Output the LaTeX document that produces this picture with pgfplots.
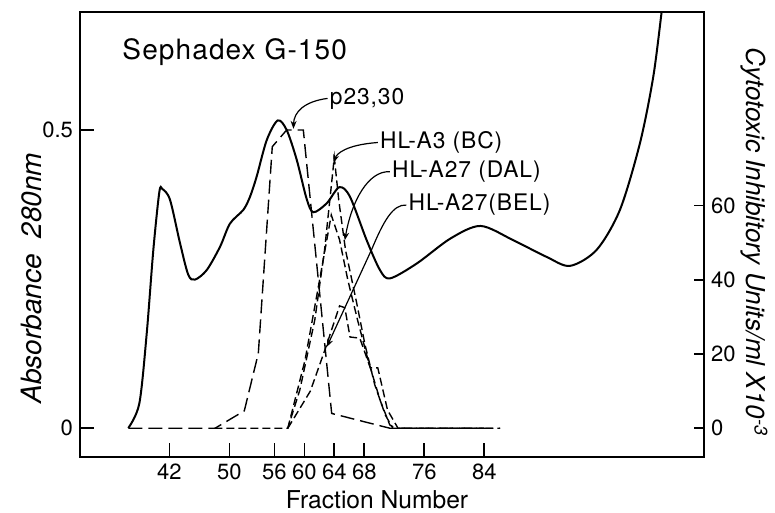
\documentclass[border=0pt]{standalone}
\usepackage{fontspec}
\setmainfont{TeX Gyre Heros}
\newfontfamily\lblfont[LetterSpace=4]{TeX Gyre Heros}
\usepackage{pgfplots}
\pgfplotsset{compat=1.18}
\usetikzlibrary{arrows.meta}

\begin{document}
\begin{tikzpicture}
\useasboundingbox (-40pt,-28pt) rectangle (347.5pt,228.5pt);
% ---------------- left axis : absorbance ----------------
\begin{axis}[
  at={(0pt,0pt)}, anchor=south west,
  scale only axis, width=312pt, height=222.5pt,
  xmin=30.09, xmax=113.3, ymin=-0.0487, ymax=0.698,
  xtick={42,50,56,60,64,68,76,84},
  ytick={0,0.5}, yticklabels={0,0.5},
  xtick pos=left, ytick pos=left,
  tick align=inside, major tick length=7pt,
  axis line style={line width=0.8pt},
  every tick/.style={black, line width=0.8pt},
  tick label style={font=\fontsize{11}{12}\selectfont},
  /pgf/number format/assume math mode=true,
  xlabel={Fraction Number},
  every axis x label/.style={at={(axis description cs:0.476,-0.095)},anchor=center,font=\fontsize{12.3}{14}\selectfont},
  ylabel={Absorbance\ \ 280nm},
  every axis y label/.style={at={(axis description cs:-0.0785,0.402)},rotate=90,anchor=center,font=\fontsize{14}{16}\selectfont\itshape},
]
\addplot[black, line width=1pt, smooth, tension=0.5] coordinates {
(36.53,0.0)(38.0,0.041)(38.99,0.159)(39.87,0.299)(40.67,0.396)(41.07,0.401)
(42.09,0.383)(43.43,0.310)(44.53,0.257)(45.43,0.249)(46.99,0.265)(48.76,0.304)
(50.09,0.343)(51.87,0.366)(52.76,0.388)(53.65,0.422)(54.99,0.483)(56.45,0.516)
(57.65,0.500)(58.99,0.450)(60.3,0.385)(61.2,0.362)(62.99,0.377)(64.67,0.404)
(66.09,0.388)(68.32,0.315)(70.09,0.265)(71.43,0.251)(75.0,0.276)(79.5,0.318)
(83.5,0.339)(87.87,0.315)(92.32,0.287)(95.43,0.272)(98.99,0.299)
(102.09,0.366)(104.76,0.478)(106.53,0.589)(107.65,0.698)(107.9,0.72)
};
% labels
\node[anchor=west, inner sep=0pt, font=\fontsize{14}{16}\lblfont] at (axis cs:35.7,0.631) {Sephadex G-150};
\node[anchor=west, inner sep=1pt, font=\fontsize{11.4}{13}\lblfont] at (axis cs:63.1,0.553) {p23,30};
\node[anchor=west, inner sep=1pt, font=\fontsize{11.4}{13}\lblfont] at (axis cs:69.8,0.479) {HL-A3 (BC)};
\node[anchor=west, inner sep=1pt, font=\fontsize{11.4}{13}\lblfont] at (axis cs:71.4,0.430) {HL-A27 (DAL)};
\node[anchor=west, inner sep=1pt, font=\fontsize{11.4}{13}\lblfont] at (axis cs:73.6,0.374) {HL-A27(BEL)};
% leaders
\draw[line width=0.6pt, -{Stealth[length=4pt,width=3pt]}] (axis cs:63.1,0.553) .. controls (axis cs:60.0,0.548) and (axis cs:58.6,0.53) .. (axis cs:58.55,0.502);
\draw[line width=0.6pt, -{Stealth[length=4pt,width=3pt]}] (axis cs:69.8,0.479) .. controls (axis cs:65.5,0.475) and (axis cs:64.3,0.46) .. (axis cs:63.9,0.445);
\draw[line width=0.6pt, -{Stealth[length=4pt,width=3pt]}] (axis cs:71.4,0.430) .. controls (axis cs:68.5,0.432) and (axis cs:66.3,0.38) .. (axis cs:65.4,0.315);
\draw[line width=0.6pt, -{Stealth[length=4pt,width=3pt]}] (axis cs:73.6,0.374) .. controls (axis cs:71.8,0.376) and (axis cs:70.5,0.345) .. (axis cs:69.0,0.30) -- (axis cs:63.0,0.136);
\end{axis}
% ---------------- right axis : cytotoxic units ----------------
\begin{axis}[
  at={(0pt,0pt)}, anchor=south west,
  scale only axis, width=312pt, height=222.5pt,
  xmin=30.09, xmax=113.3, ymin=-7.74, ymax=112.2,
  axis x line=none, axis y line*=right,
  ytick={0,20,40,60},
  tick align=inside, major tick length=5pt,
  axis line style={line width=0.8pt},
  every tick/.style={black, line width=0.8pt},
  tick label style={font=\fontsize{11}{12}\selectfont},
  /pgf/number format/assume math mode=true,
  ylabel={Cytotoxic Inhibitory Units/ml X10\textsuperscript{-3}},
  every axis y label/.style={at={(axis description cs:1.0801,0.483)},rotate=-90,anchor=center,font=\fontsize{13}{15}\selectfont\itshape},
]
% p23,30 (long dashes)
\addplot[black, line width=0.7pt, dash pattern=on 7pt off 3pt] coordinates {
(36.53,0)(48.09,0)(52.0,4.7)(53.87,20.2)(55.73,75.9)(57.65,80.4)(59.87,80.4)(63.65,4.0)(71.43,0)(86.1,0)
};
% HL-A3 (BC)
\addplot[black, line width=0.7pt, dash pattern=on 4pt off 2pt] coordinates {
(48,0)(57.8,0)(59.4,10.3)(61.4,29.2)(62.7,48.0)(64.0,73.0)(64.6,61.4)(65.5,48.0)(66.9,34.6)(68.1,22.5)(69.4,11.7)(70.8,3.6)(71.8,0)(86.1,0)
};
% HL-A27 (DAL)
\addplot[black, line width=0.7pt, dash pattern=on 4pt off 2pt] coordinates {
(57.8,0)(60.1,18.4)(61.8,37.3)(63.6,57.5)(64.7,50.8)(65.8,40.0)(67.1,29.2)(68.5,18.4)(70.1,7.6)(71.4,0.9)(72.2,0)(84,0)
};
% HL-A27 (BEL)
\addplot[black, line width=0.7pt, dash pattern=on 4pt off 2pt] coordinates {
(57.8,0)(60.8,10)(62.9,22)(64.7,33)(65.4,32.5)(66.1,24.6)(67.4,24.3)(68.8,16.3)(69.8,16.3)(71.1,4.9)(72.5,0)(84,0)
};
\end{axis}
\end{tikzpicture}
\end{document}
